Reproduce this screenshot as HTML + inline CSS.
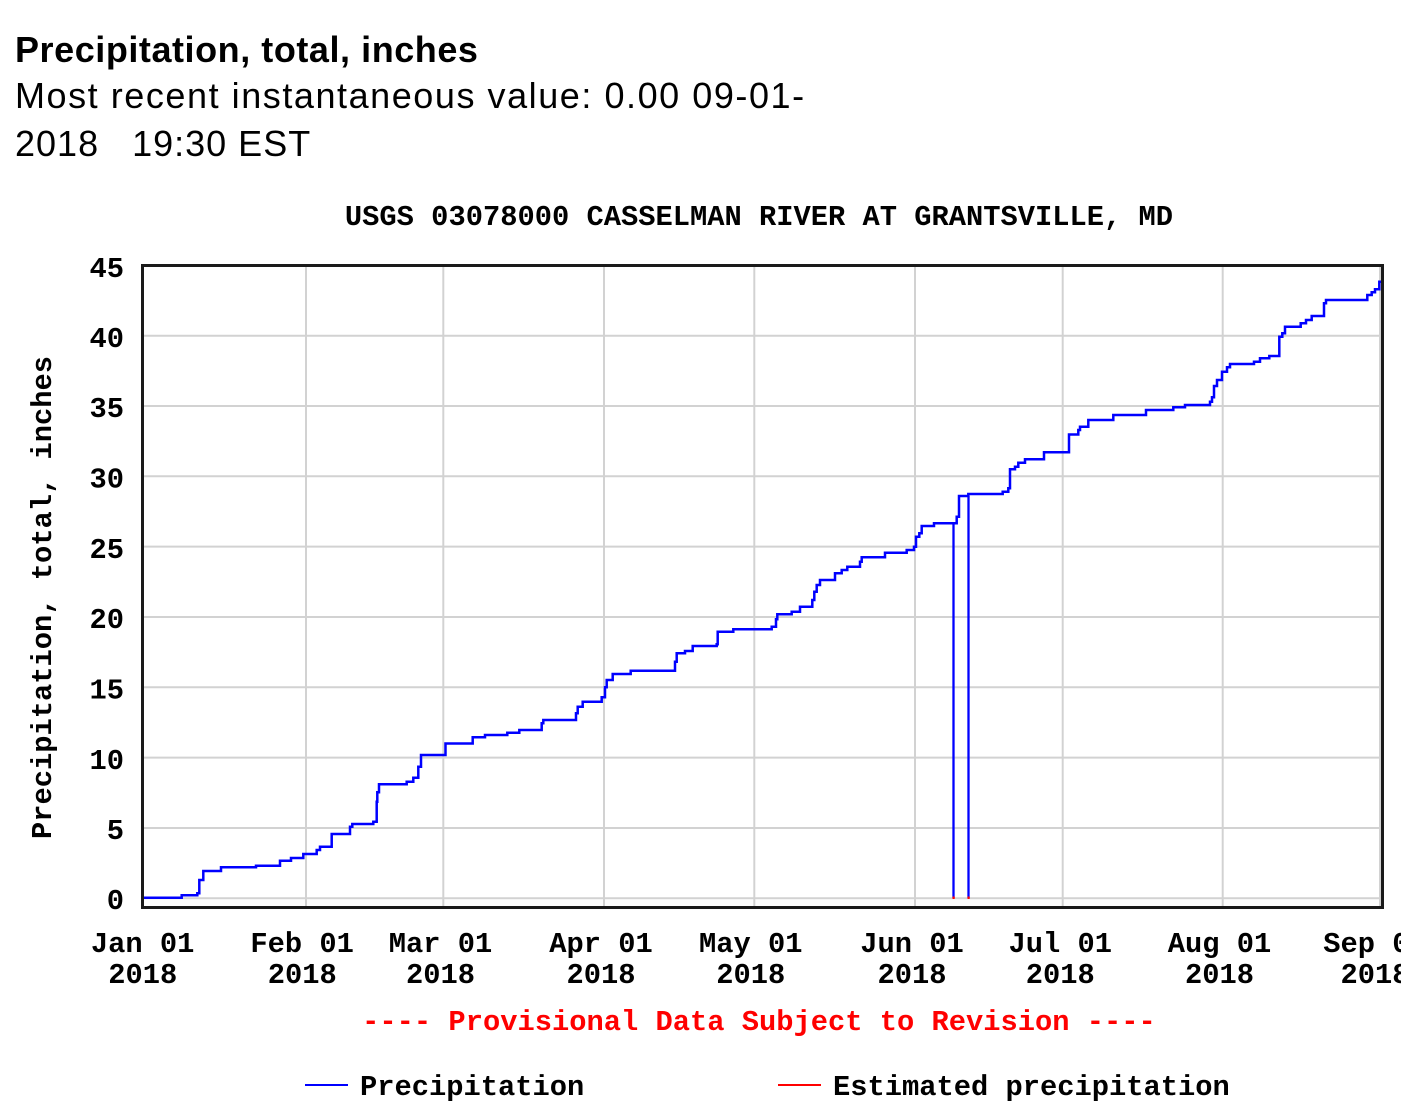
<!DOCTYPE html>
<html>
<head>
<meta charset="utf-8">
<style>
  html, body { margin:0; padding:0; background:#ffffff; }
  body { width:1401px; height:1109px; overflow:hidden; position:relative; }
  svg { position:absolute; left:0; top:0; display:block; }
  .hdr { font-family:"Liberation Sans", Arial, sans-serif; fill:#000; }
  .mono { font-family:"Liberation Mono", "DejaVu Sans Mono", monospace; font-weight:bold; font-size:28.75px; fill:#000; }
</style>
</head>
<body>
<svg width="1401" height="1109" viewBox="0 0 1401 1109" xmlns="http://www.w3.org/2000/svg">
  <!-- Header -->
  <text class="hdr" x="15" y="62" font-size="36" font-weight="bold" letter-spacing="0.55">Precipitation, total, inches</text>
  <text class="hdr" x="15" y="108" font-size="36" letter-spacing="1.55">Most recent instantaneous value: 0.00 09-01-</text>
  <text class="hdr" x="15" y="156" font-size="36" letter-spacing="1.0" xml:space="preserve">2018   19:30 EST</text>

  <!-- Chart title -->
  <text class="mono" x="759" y="225" text-anchor="middle">USGS 03078000 CASSELMAN RIVER AT GRANTSVILLE, MD</text>

  <!-- Grid -->
  <g stroke="#d2d2d2" stroke-width="2" fill="none">
    <line x1="143" y1="335.7" x2="1382" y2="335.7"/>
    <line x1="143" y1="406" x2="1382" y2="406"/>
    <line x1="143" y1="476.3" x2="1382" y2="476.3"/>
    <line x1="143" y1="546.6" x2="1382" y2="546.6"/>
    <line x1="143" y1="617" x2="1382" y2="617"/>
    <line x1="143" y1="687.3" x2="1382" y2="687.3"/>
    <line x1="143" y1="757.6" x2="1382" y2="757.6"/>
    <line x1="143" y1="828" x2="1382" y2="828"/>
    <line x1="143" y1="898.3" x2="1382" y2="898.3"/>
    <line x1="306" y1="266" x2="306" y2="907"/>
    <line x1="443.3" y1="266" x2="443.3" y2="907"/>
    <line x1="604" y1="266" x2="604" y2="907"/>
    <line x1="754.3" y1="266" x2="754.3" y2="907"/>
    <line x1="915" y1="266" x2="915" y2="907"/>
    <line x1="1062.7" y1="266" x2="1062.7" y2="907"/>
    <line x1="1222.7" y1="266" x2="1222.7" y2="907"/>
    <line x1="1380" y1="266" x2="1380" y2="907"/>
  </g>

  <!-- Spikes to zero -->
  <g stroke="#0000ff" stroke-width="2.3">
    <line x1="953.5" y1="523.3" x2="953.5" y2="898"/>
    <line x1="968.5" y1="496" x2="968.5" y2="898"/>
  </g>
  <rect x="952.5" y="896.5" width="2.2" height="2.5" fill="#ff0000"/>
  <rect x="967.5" y="896.5" width="2.2" height="2.5" fill="#ff0000"/>

  <!-- Series -->
  <path fill="none" stroke="#0000ff" stroke-width="2.5" stroke-linejoin="miter"
    d="M143,897.7 H181.7 V895.3 H197.3 V893.3 H199.3 V880 H203.3 V871 H221 V867.3 H256 V865.7 H280 V860.7 H291 V858 H303.3 V854 H316.7 V850 H320 V846.7 H331.7 V834 H350 V826.7 H352.3 V824 H373.3 V821.7 H376.7 V801.7 H377.3 V792.3 H379 V784.3 H406.7 V781.7 H413.3 V777.7 H418.3 V766.7 H421 V755 H445.5 V743.5 H472.7 V737.3 H485 V735 H507.3 V732.7 H519.3 V730 H541.7 V723.3 H543.3 V720 H576 V713.3 H577.7 V706.7 H582.7 V701.7 H601.7 V697.3 H605 V687.3 H606.7 V680 H612.7 V674 H630.7 V670.7 H675 V661.7 H676.7 V653.3 H685 V651 H692.7 V646 H716.7 V644.3 H717.7 V631.7 H733.3 V629.3 H771.7 V626.7 H776 V619.3 H777.3 V614.3 H791.7 V611.7 H800 V606.7 H812.3 V600 H814.3 V591.7 H816.7 V585 H820 V580 H835 V573.3 H841.7 V570 H847.3 V566.7 H860 V561.7 H861.7 V557.3 H885 V552.7 H906.7 V550 H914 V546.7 H916 V536.7 H919.3 V533.3 H921.7 V526 H934 V523.3 H956.7 V516.7 H959 V496 H968.3 V494 H1002.7 V491.7 H1008.3 V488.3 H1010 V469.3 H1015 V466.7 H1018.3 V462.7 H1025 V459.3 H1044 V452.3 H1069 V434.5 H1078.3 V430 H1080 V426.7 H1088.3 V420 H1113.3 V415 H1146 V410 H1173.3 V407.3 H1185 V405 H1210 V401.7 H1212 V397.3 H1214 V386 H1217 V380 H1222 V371.7 H1227 V367.3 H1230 V364 H1254 V361.7 H1260 V358.3 H1269.3 V356 H1279.3 V336.7 H1282.3 V333.3 H1285 V326.7 H1300.7 V323.3 H1306 V320 H1311.7 V316 H1324 V303.3 H1326 V300 H1367.3 V295 H1371.7 V292.3 H1375 V289.3 H1379.3 V281.7 H1381"/>

  <!-- Frame -->
  <rect x="142.5" y="265.5" width="1240" height="642" fill="none" stroke="#1a1a1a" stroke-width="3"/>

  <!-- Y tick labels -->
  <g class="mono" text-anchor="end">
    <text x="124" y="277">45</text>
    <text x="124" y="347">40</text>
    <text x="124" y="417">35</text>
    <text x="124" y="487.5">30</text>
    <text x="124" y="558">25</text>
    <text x="124" y="628">20</text>
    <text x="124" y="698.5">15</text>
    <text x="124" y="769">10</text>
    <text x="124" y="839">5</text>
    <text x="124" y="909">0</text>
  </g>

  <!-- X tick labels -->
  <g class="mono" text-anchor="middle">
    <text x="142.7" y="952">Jan 01</text><text x="142.7" y="983">2018</text>
    <text x="302.2" y="952">Feb 01</text><text x="302.2" y="983">2018</text>
    <text x="440.5" y="952">Mar 01</text><text x="440.5" y="983">2018</text>
    <text x="601" y="952">Apr 01</text><text x="601" y="983">2018</text>
    <text x="750.8" y="952">May 01</text><text x="750.8" y="983">2018</text>
    <text x="912" y="952">Jun 01</text><text x="912" y="983">2018</text>
    <text x="1060.3" y="952">Jul 01</text><text x="1060.3" y="983">2018</text>
    <text x="1219.5" y="952">Aug 01</text><text x="1219.5" y="983">2018</text>
    <text x="1375" y="952">Sep 01</text><text x="1375" y="983">2018</text>
  </g>

  <!-- Y axis title -->
  <text class="mono" text-anchor="middle" transform="translate(51,597.5) rotate(-90)">Precipitation, total, inches</text>

  <!-- Provisional notice -->
  <text class="mono" x="759" y="1030" text-anchor="middle" style="fill:#ff0000">---- Provisional Data Subject to Revision ----</text>

  <!-- Legend -->
  <line x1="305" y1="1085" x2="348" y2="1085" stroke="#0000ff" stroke-width="2"/>
  <text class="mono" x="360" y="1095">Precipitation</text>
  <line x1="778" y1="1085" x2="821" y2="1085" stroke="#ff0000" stroke-width="2"/>
  <text class="mono" x="833" y="1095">Estimated precipitation</text>
</svg>
</body>
</html>
